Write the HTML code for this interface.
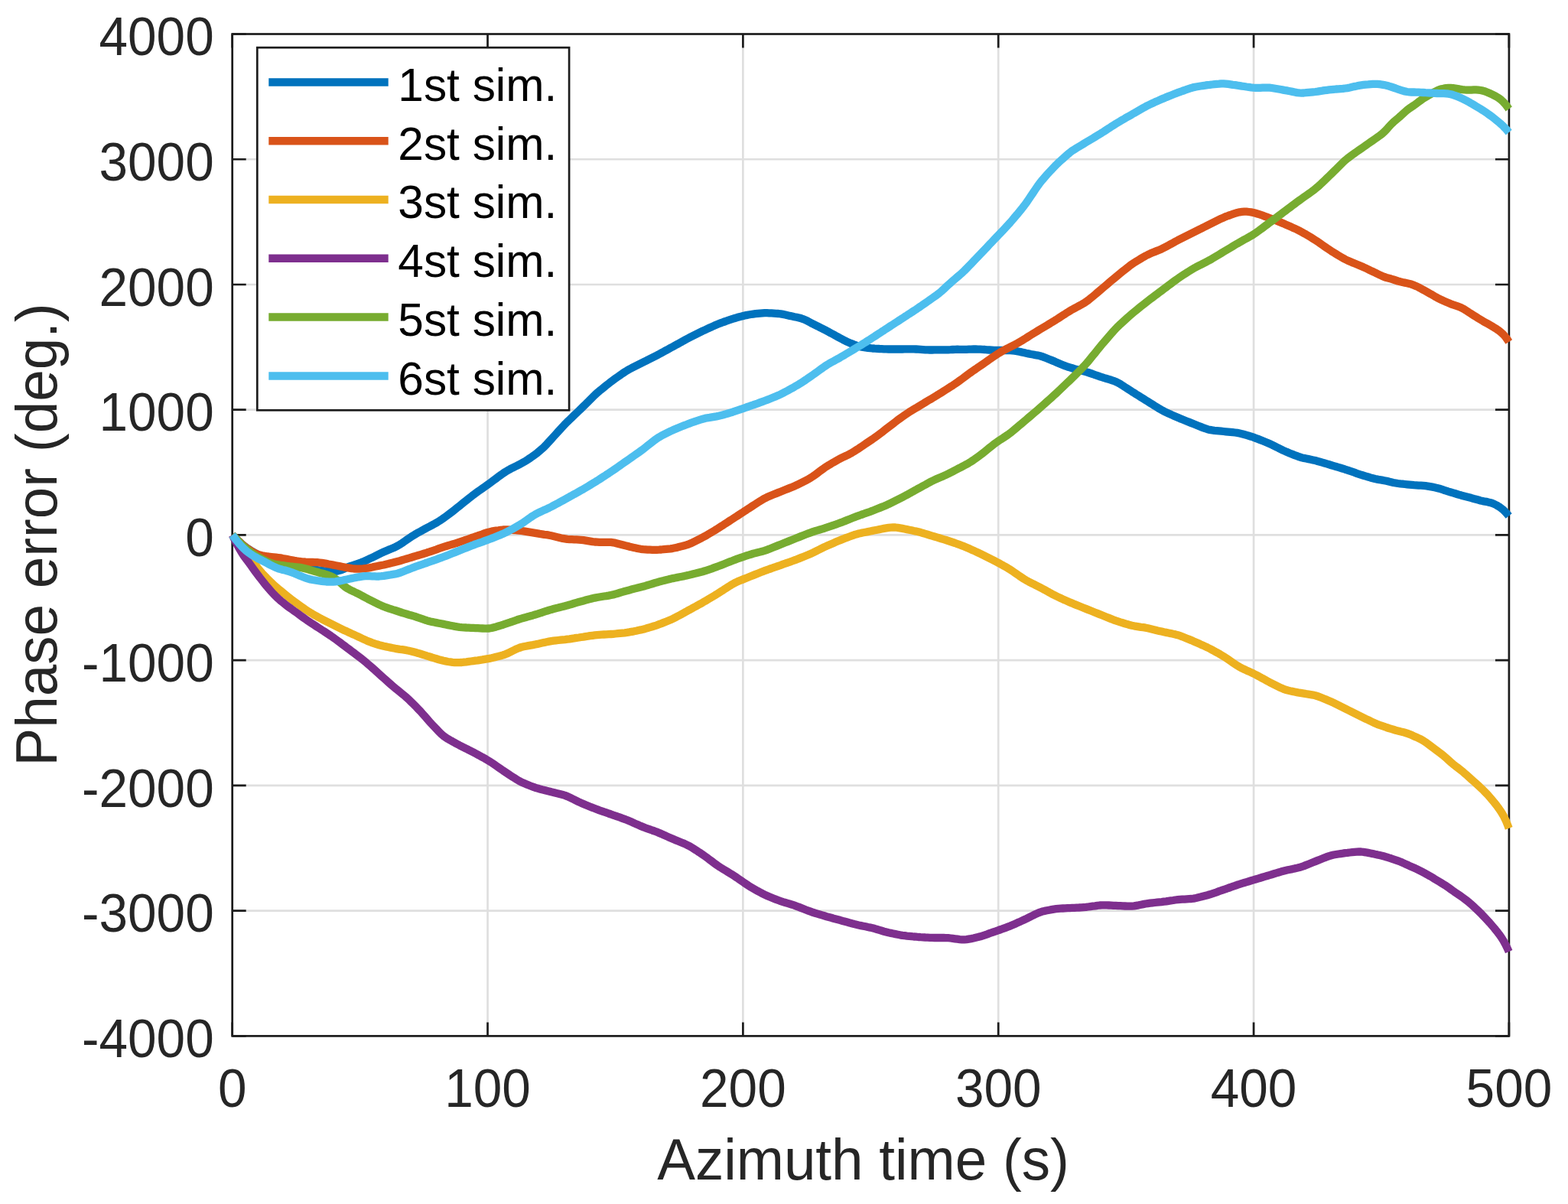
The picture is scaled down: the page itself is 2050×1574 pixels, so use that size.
<!DOCTYPE html>
<html><head><meta charset="utf-8"><title>Phase error</title><style>html,body{margin:0;padding:0;background:#fff;width:2050px;height:1574px;overflow:hidden}svg{display:block}</style></head><body>
<svg width="2050" height="1574" viewBox="0 0 2050 1574">
<rect width="2050" height="1574" fill="#fff"/>
<path d="M637.54 44.50V1354.40M971.38 44.50V1354.40M1305.22 44.50V1354.40M1639.06 44.50V1354.40M303.70 1190.66H1972.90M303.70 1026.93H1972.90M303.70 863.19H1972.90M303.70 699.45H1972.90M303.70 535.71H1972.90M303.70 371.98H1972.90M303.70 208.24H1972.90" stroke="#dfdfdf" stroke-width="2.7" fill="none"/>
<path d="M303.70 1354.40v-18M303.70 44.50v18M637.54 1354.40v-18M637.54 44.50v18M971.38 1354.40v-18M971.38 44.50v18M1305.22 1354.40v-18M1305.22 44.50v18M1639.06 1354.40v-18M1639.06 44.50v18M1972.90 1354.40v-18M1972.90 44.50v18M303.70 1354.40h18M1972.90 1354.40h-18M303.70 1190.66h18M1972.90 1190.66h-18M303.70 1026.93h18M1972.90 1026.93h-18M303.70 863.19h18M1972.90 863.19h-18M303.70 699.45h18M1972.90 699.45h-18M303.70 535.71h18M1972.90 535.71h-18M303.70 371.98h18M1972.90 371.98h-18M303.70 208.24h18M1972.90 208.24h-18M303.70 44.50h18M1972.90 44.50h-18" stroke="#1c1c1c" stroke-width="2.7" fill="none"/>
<rect x="303.70" y="44.50" width="1669.20" height="1309.90" stroke="#1c1c1c" stroke-width="2.7" fill="none"/>
<path d="M303.7 699.5 306.7 702.3 309.7 705.2 312.7 708.0 315.7 710.8 318.7 713.4 321.7 715.7 324.7 717.7 327.7 719.6 330.7 721.4 333.7 723.2 336.7 725.0 339.7 726.8 342.7 728.4 345.7 729.8 348.7 730.9 351.7 731.8 354.7 732.6 357.7 733.4 360.7 734.2 363.7 735.0 366.7 735.8 369.7 736.6 372.7 737.3 375.7 738.1 378.7 738.7 381.7 739.3 384.7 739.9 387.7 740.5 390.7 741.1 393.7 741.7 396.7 742.3 399.7 742.8 402.7 743.3 405.7 743.8 408.7 744.2 411.7 744.7 414.7 745.1 417.7 745.5 420.7 745.9 423.7 746.3 426.7 746.6 429.7 746.9 432.7 747.1 435.7 747.1 438.7 746.8 441.7 746.3 444.7 745.5 447.7 744.5 450.7 743.2 453.7 741.8 456.7 740.7 459.7 739.6 462.7 738.7 465.7 737.7 468.7 736.7 471.7 735.6 474.7 734.4 477.7 733.1 480.7 731.6 483.7 730.2 486.7 728.8 489.7 727.4 492.7 725.9 495.7 724.4 498.7 722.9 501.7 721.5 504.7 720.2 507.7 718.9 510.7 717.7 513.7 716.5 516.7 715.2 519.7 713.7 522.7 711.9 525.7 710.0 528.7 707.9 531.7 705.8 534.7 703.7 537.7 701.7 540.7 699.8 543.7 698.0 546.7 696.3 549.7 694.7 552.7 693.0 555.7 691.4 558.7 689.8 561.7 688.2 564.7 686.6 567.7 685.0 570.7 683.4 573.7 681.5 576.7 679.6 579.7 677.5 582.7 675.4 585.7 673.2 588.7 670.9 591.7 668.6 594.7 666.2 597.7 663.8 600.7 661.4 603.7 659.0 606.7 656.6 609.7 654.2 612.7 651.8 615.7 649.5 618.7 647.1 621.7 644.9 624.7 642.7 627.7 640.6 630.7 638.5 633.7 636.4 636.7 634.3 639.7 632.1 642.7 629.9 645.7 627.7 648.7 625.5 651.7 623.2 654.7 621.0 657.7 618.9 660.7 616.9 663.7 615.1 666.7 613.4 669.7 611.8 672.7 610.3 675.7 608.9 678.7 607.4 681.7 605.8 684.7 604.1 687.7 602.3 690.7 600.4 693.7 598.4 696.7 596.3 699.7 594.1 702.7 591.8 705.7 589.3 708.7 586.7 711.7 583.9 714.7 580.8 717.7 577.5 720.7 574.2 723.7 570.9 726.7 567.6 729.7 564.3 732.7 561.0 735.7 557.8 738.7 554.6 741.7 551.5 744.7 548.6 747.7 545.7 750.7 542.8 753.7 540.0 756.7 537.1 759.7 534.2 762.7 531.3 765.7 528.3 768.7 525.3 771.7 522.3 774.7 519.3 777.7 516.4 780.7 513.7 783.7 511.1 786.7 508.7 789.7 506.2 792.7 503.8 795.7 501.5 798.7 499.1 801.7 496.9 804.7 494.7 807.7 492.6 810.7 490.5 813.7 488.4 816.7 486.4 819.7 484.5 822.7 482.8 825.7 481.2 828.7 479.7 831.7 478.2 834.7 476.7 837.7 475.2 840.7 473.7 843.7 472.2 846.7 470.6 849.7 469.1 852.7 467.6 855.7 466.1 858.7 464.6 861.7 463.0 864.7 461.4 867.7 459.8 870.7 458.1 873.7 456.5 876.7 454.8 879.7 453.2 882.7 451.5 885.7 449.9 888.7 448.2 891.7 446.6 894.7 444.9 897.7 443.3 900.7 441.7 903.7 440.2 906.7 438.7 909.7 437.2 912.7 435.7 915.7 434.2 918.7 432.7 921.7 431.3 924.7 429.9 927.7 428.5 930.7 427.2 933.7 425.8 936.7 424.5 939.7 423.3 942.7 422.1 945.7 421.0 948.7 420.0 951.7 418.9 954.7 417.9 957.7 416.9 960.7 416.0 963.7 415.1 966.7 414.3 969.7 413.6 972.7 412.8 975.7 412.1 978.7 411.5 981.7 411.0 984.7 410.6 987.7 410.2 990.7 409.9 993.7 409.6 996.7 409.4 999.7 409.2 1002.7 409.2 1005.7 409.3 1008.7 409.4 1011.7 409.6 1014.7 409.8 1017.7 410.0 1020.7 410.4 1023.7 410.9 1026.7 411.5 1029.7 412.2 1032.7 412.9 1035.7 413.5 1038.7 414.2 1041.7 414.8 1044.7 415.5 1047.7 416.3 1050.7 417.3 1053.7 418.7 1056.7 420.2 1059.7 421.8 1062.7 423.3 1065.7 424.8 1068.7 426.3 1071.7 427.9 1074.7 429.4 1077.7 430.9 1080.7 432.4 1083.7 434.1 1086.7 435.7 1089.7 437.3 1092.7 439.0 1095.7 440.6 1098.7 442.2 1101.7 443.8 1104.7 445.3 1107.7 446.8 1110.7 448.2 1113.7 449.4 1116.7 450.6 1119.7 451.7 1122.7 452.6 1125.7 453.4 1128.7 454.0 1131.7 454.5 1134.7 454.9 1137.7 455.2 1140.7 455.5 1143.7 455.7 1146.7 455.8 1149.7 456.0 1152.7 456.1 1155.7 456.3 1158.7 456.4 1161.7 456.5 1164.7 456.5 1167.7 456.5 1170.7 456.5 1173.7 456.5 1176.7 456.5 1179.7 456.5 1182.7 456.4 1185.7 456.3 1188.7 456.3 1191.7 456.3 1194.7 456.4 1197.7 456.5 1200.7 456.7 1203.7 456.9 1206.7 457.1 1209.7 457.3 1212.7 457.4 1215.7 457.5 1218.7 457.5 1221.7 457.4 1224.7 457.4 1227.7 457.3 1230.7 457.3 1233.7 457.3 1236.7 457.3 1239.7 457.3 1242.7 457.2 1245.7 457.0 1248.7 456.8 1251.7 456.7 1254.7 456.8 1257.7 456.8 1260.7 456.8 1263.7 456.8 1266.7 456.7 1269.7 456.6 1272.7 456.5 1275.7 456.5 1278.7 456.6 1281.7 456.7 1284.7 456.8 1287.7 457.0 1290.7 457.3 1293.7 457.5 1296.7 457.7 1299.7 457.9 1302.7 458.0 1305.7 458.0 1308.7 458.0 1311.7 458.0 1314.7 458.0 1317.7 458.1 1320.7 458.2 1323.7 458.4 1326.7 458.7 1329.7 459.2 1332.7 459.8 1335.7 460.4 1338.7 461.1 1341.7 461.8 1344.7 462.4 1347.7 463.0 1350.7 463.5 1353.7 464.1 1356.7 464.6 1359.7 465.3 1362.7 466.2 1365.7 467.3 1368.7 468.5 1371.7 469.7 1374.7 470.9 1377.7 472.1 1380.7 473.4 1383.7 474.7 1386.7 476.0 1389.7 477.2 1392.7 478.4 1395.7 479.5 1398.7 480.4 1401.7 481.3 1404.7 482.2 1407.7 482.9 1410.7 483.7 1413.7 484.4 1416.7 485.2 1419.7 486.1 1422.7 487.0 1425.7 488.0 1428.7 489.0 1431.7 490.1 1434.7 491.1 1437.7 492.2 1440.7 493.1 1443.7 494.1 1446.7 495.0 1449.7 495.9 1452.7 496.8 1455.7 497.8 1458.7 499.0 1461.7 500.4 1464.7 502.1 1467.7 504.0 1470.7 506.0 1473.7 507.9 1476.7 509.8 1479.7 511.8 1482.7 513.7 1485.7 515.6 1488.7 517.4 1491.7 519.3 1494.7 521.2 1497.7 523.1 1500.7 524.9 1503.7 526.8 1506.7 528.7 1509.7 530.6 1512.7 532.4 1515.7 534.3 1518.7 536.0 1521.7 537.6 1524.7 539.1 1527.7 540.5 1530.7 541.8 1533.7 543.2 1536.7 544.5 1539.7 545.8 1542.7 547.1 1545.7 548.3 1548.7 549.5 1551.7 550.7 1554.7 551.9 1557.7 553.1 1560.7 554.3 1563.7 555.5 1566.7 556.7 1569.7 557.9 1572.7 559.1 1575.7 560.2 1578.7 561.2 1581.7 561.9 1584.7 562.4 1587.7 562.8 1590.7 563.1 1593.7 563.4 1596.7 563.7 1599.7 564.0 1602.7 564.3 1605.7 564.6 1608.7 564.9 1611.7 565.2 1614.7 565.5 1617.7 565.9 1620.7 566.5 1623.7 567.2 1626.7 568.0 1629.7 568.9 1632.7 569.8 1635.7 570.7 1638.7 571.7 1641.7 572.8 1644.7 573.9 1647.7 575.1 1650.7 576.3 1653.7 577.5 1656.7 578.7 1659.7 580.0 1662.7 581.4 1665.7 582.9 1668.7 584.4 1671.7 585.8 1674.7 587.3 1677.7 588.8 1680.7 590.2 1683.7 591.4 1686.7 592.7 1689.7 593.9 1692.7 595.1 1695.7 596.2 1698.7 597.3 1701.7 598.2 1704.7 598.9 1707.7 599.5 1710.7 600.1 1713.7 600.7 1716.7 601.4 1719.7 602.1 1722.7 602.9 1725.7 603.7 1728.7 604.6 1731.7 605.5 1734.7 606.4 1737.7 607.3 1740.7 608.2 1743.7 609.1 1746.7 610.0 1749.7 610.9 1752.7 611.8 1755.7 612.7 1758.7 613.7 1761.7 614.6 1764.7 615.7 1767.7 616.7 1770.7 617.7 1773.7 618.8 1776.7 619.8 1779.7 620.8 1782.7 621.7 1785.7 622.6 1788.7 623.5 1791.7 624.4 1794.7 625.2 1797.7 626.0 1800.7 626.6 1803.7 627.2 1806.7 627.6 1809.7 628.2 1812.7 628.8 1815.7 629.6 1818.7 630.3 1821.7 631.0 1824.7 631.5 1827.7 632.0 1830.7 632.4 1833.7 632.7 1836.7 633.0 1839.7 633.3 1842.7 633.6 1845.7 633.9 1848.7 634.2 1851.7 634.4 1854.7 634.6 1857.7 634.7 1860.7 634.9 1863.7 635.2 1866.7 635.6 1869.7 636.1 1872.7 636.6 1875.7 637.2 1878.7 637.9 1881.7 638.7 1884.7 639.7 1887.7 640.7 1890.7 641.6 1893.7 642.6 1896.7 643.5 1899.7 644.4 1902.7 645.3 1905.7 646.2 1908.7 647.1 1911.7 647.9 1914.7 648.7 1917.7 649.5 1920.7 650.3 1923.7 651.1 1926.7 652.0 1929.7 652.8 1932.7 653.6 1935.7 654.4 1938.7 655.1 1941.7 655.7 1944.7 656.2 1947.7 656.9 1950.7 657.8 1953.7 659.0 1956.7 660.5 1959.7 662.3 1962.7 664.4 1965.7 666.8 1968.7 669.8 1971.7 673.3 1972.7 674.5" stroke="#0072BD" stroke-width="10.3" fill="none" stroke-linejoin="round" stroke-linecap="butt"/>
<path d="M303.7 699.5 306.7 702.3 309.7 705.2 312.7 708.0 315.7 710.8 318.7 713.4 321.7 715.8 324.7 717.9 327.7 719.8 330.7 721.7 333.7 723.3 336.7 724.6 339.7 725.6 342.7 726.3 345.7 726.9 348.7 727.3 351.7 727.7 354.7 728.0 357.7 728.3 360.7 728.6 363.7 729.0 366.7 729.4 369.7 730.0 372.7 730.5 375.7 731.1 378.7 731.7 381.7 732.3 384.7 732.9 387.7 733.4 390.7 733.8 393.7 734.2 396.7 734.5 399.7 734.7 402.7 734.8 405.7 734.9 408.7 735.0 411.7 735.1 414.7 735.2 417.7 735.5 420.7 735.9 423.7 736.4 426.7 736.9 429.7 737.5 432.7 738.0 435.7 738.6 438.7 739.2 441.7 739.8 444.7 740.4 447.7 741.0 450.7 741.6 453.7 742.2 456.7 742.7 459.7 743.2 462.7 743.5 465.7 743.7 468.7 743.7 471.7 743.6 474.7 743.4 477.7 743.0 480.7 742.6 483.7 742.1 486.7 741.5 489.7 740.8 492.7 740.2 495.7 739.6 498.7 739.0 501.7 738.5 504.7 737.8 507.7 737.1 510.7 736.3 513.7 735.6 516.7 734.8 519.7 734.0 522.7 733.2 525.7 732.3 528.7 731.4 531.7 730.5 534.7 729.6 537.7 728.7 540.7 727.8 543.7 726.9 546.7 726.0 549.7 725.1 552.7 724.2 555.7 723.3 558.7 722.3 561.7 721.4 564.7 720.3 567.7 719.3 570.7 718.3 573.7 717.2 576.7 716.2 579.7 715.2 582.7 714.2 585.7 713.3 588.7 712.4 591.7 711.5 594.7 710.6 597.7 709.7 600.7 708.7 603.7 707.7 606.7 706.7 609.7 705.6 612.7 704.6 615.7 703.5 618.7 702.5 621.7 701.4 624.7 700.4 627.7 699.3 630.7 698.3 633.7 697.2 636.7 696.2 639.7 695.4 642.7 694.7 645.7 694.2 648.7 693.7 651.7 693.3 654.7 692.8 657.7 692.5 660.7 692.3 663.7 692.4 666.7 692.6 669.7 692.8 672.7 693.0 675.7 693.3 678.7 693.6 681.7 694.0 684.7 694.4 687.7 694.9 690.7 695.4 693.7 695.9 696.7 696.4 699.7 696.9 702.7 697.4 705.7 697.9 708.7 698.3 711.7 698.8 714.7 699.2 717.7 699.7 720.7 700.3 723.7 701.0 726.7 701.7 729.7 702.4 732.7 703.2 735.7 703.9 738.7 704.4 741.7 704.9 744.7 705.1 747.7 705.2 750.7 705.3 753.7 705.4 756.7 705.6 759.7 705.8 762.7 706.1 765.7 706.6 768.7 707.1 771.7 707.6 774.7 708.1 777.7 708.5 780.7 708.7 783.7 708.9 786.7 708.9 789.7 708.8 792.7 708.8 795.7 708.8 798.7 708.9 801.7 709.3 804.7 709.9 807.7 710.7 810.7 711.5 813.7 712.3 816.7 713.1 819.7 713.8 822.7 714.6 825.7 715.2 828.7 715.9 831.7 716.6 834.7 717.2 837.7 717.8 840.7 718.2 843.7 718.4 846.7 718.6 849.7 718.7 852.7 718.8 855.7 718.8 858.7 718.8 861.7 718.7 864.7 718.5 867.7 718.2 870.7 717.9 873.7 717.6 876.7 717.3 879.7 716.8 882.7 716.2 885.7 715.6 888.7 714.8 891.7 714.1 894.7 713.3 897.7 712.4 900.7 711.3 903.7 710.1 906.7 708.6 909.7 707.1 912.7 705.6 915.7 704.1 918.7 702.5 921.7 700.9 924.7 699.2 927.7 697.4 930.7 695.6 933.7 693.8 936.7 692.0 939.7 690.1 942.7 688.2 945.7 686.3 948.7 684.3 951.7 682.4 954.7 680.4 957.7 678.5 960.7 676.5 963.7 674.6 966.7 672.6 969.7 670.7 972.7 668.7 975.7 666.8 978.7 664.8 981.7 662.9 984.7 660.9 987.7 659.0 990.7 657.0 993.7 655.1 996.7 653.3 999.7 651.6 1002.7 650.1 1005.7 648.8 1008.7 647.5 1011.7 646.3 1014.7 645.1 1017.7 643.9 1020.7 642.7 1023.7 641.5 1026.7 640.3 1029.7 639.1 1032.7 637.9 1035.7 636.7 1038.7 635.4 1041.7 634.1 1044.7 632.6 1047.7 631.1 1050.7 629.6 1053.7 628.1 1056.7 626.5 1059.7 624.8 1062.7 622.8 1065.7 620.7 1068.7 618.5 1071.7 616.2 1074.7 614.0 1077.7 611.8 1080.7 609.8 1083.7 607.9 1086.7 606.2 1089.7 604.4 1092.7 602.7 1095.7 601.0 1098.7 599.4 1101.7 597.9 1104.7 596.5 1107.7 595.1 1110.7 593.6 1113.7 591.9 1116.7 590.1 1119.7 588.2 1122.7 586.3 1125.7 584.2 1128.7 582.2 1131.7 580.1 1134.7 578.1 1137.7 576.1 1140.7 574.1 1143.7 572.0 1146.7 569.8 1149.7 567.6 1152.7 565.4 1155.7 563.0 1158.7 560.7 1161.7 558.4 1164.7 556.1 1167.7 553.8 1170.7 551.5 1173.7 549.2 1176.7 547.0 1179.7 544.8 1182.7 542.7 1185.7 540.7 1188.7 538.7 1191.7 536.8 1194.7 535.0 1197.7 533.3 1200.7 531.5 1203.7 529.7 1206.7 527.8 1209.7 526.0 1212.7 524.2 1215.7 522.4 1218.7 520.7 1221.7 518.9 1224.7 517.0 1227.7 515.2 1230.7 513.3 1233.7 511.4 1236.7 509.5 1239.7 507.6 1242.7 505.7 1245.7 503.8 1248.7 501.8 1251.7 499.7 1254.7 497.5 1257.7 495.4 1260.7 493.2 1263.7 490.9 1266.7 488.7 1269.7 486.5 1272.7 484.4 1275.7 482.4 1278.7 480.3 1281.7 478.3 1284.7 476.2 1287.7 474.1 1290.7 472.0 1293.7 469.9 1296.7 467.8 1299.7 465.8 1302.7 463.8 1305.7 461.8 1308.7 460.0 1311.7 458.3 1314.7 456.7 1317.7 455.2 1320.7 453.6 1323.7 452.1 1326.7 450.6 1329.7 449.0 1332.7 447.3 1335.7 445.6 1338.7 443.7 1341.7 441.9 1344.7 439.9 1347.7 438.0 1350.7 436.1 1353.7 434.3 1356.7 432.5 1359.7 430.7 1362.7 428.9 1365.7 427.1 1368.7 425.3 1371.7 423.5 1374.7 421.7 1377.7 419.8 1380.7 418.0 1383.7 416.1 1386.7 414.1 1389.7 412.2 1392.7 410.3 1395.7 408.3 1398.7 406.5 1401.7 404.7 1404.7 403.1 1407.7 401.5 1410.7 399.9 1413.7 398.3 1416.7 396.6 1419.7 394.7 1422.7 392.5 1425.7 390.1 1428.7 387.6 1431.7 385.1 1434.7 382.5 1437.7 380.0 1440.7 377.4 1443.7 374.9 1446.7 372.3 1449.7 369.8 1452.7 367.2 1455.7 364.7 1458.7 362.2 1461.7 359.7 1464.7 357.3 1467.7 354.8 1470.7 352.4 1473.7 350.1 1476.7 347.7 1479.7 345.5 1482.7 343.5 1485.7 341.6 1488.7 339.8 1491.7 338.0 1494.7 336.2 1497.7 334.5 1500.7 333.0 1503.7 331.6 1506.7 330.3 1509.7 329.1 1512.7 327.9 1515.7 326.7 1518.7 325.4 1521.7 323.9 1524.7 322.4 1527.7 320.8 1530.7 319.1 1533.7 317.5 1536.7 315.8 1539.7 314.2 1542.7 312.7 1545.7 311.2 1548.7 309.7 1551.7 308.2 1554.7 306.7 1557.7 305.2 1560.7 303.7 1563.7 302.2 1566.7 300.7 1569.7 299.2 1572.7 297.6 1575.7 296.2 1578.7 294.7 1581.7 293.2 1584.7 291.7 1587.7 290.2 1590.7 288.7 1593.7 287.2 1596.7 285.7 1599.7 284.4 1602.7 283.1 1605.7 282.0 1608.7 281.0 1611.7 279.9 1614.7 278.9 1617.7 278.0 1620.7 277.3 1623.7 276.9 1626.7 276.7 1629.7 276.7 1632.7 277.0 1635.7 277.4 1638.7 278.0 1641.7 278.8 1644.7 279.7 1647.7 280.7 1650.7 281.7 1653.7 282.8 1656.7 283.9 1659.7 285.0 1662.7 286.1 1665.7 287.3 1668.7 288.5 1671.7 289.7 1674.7 290.9 1677.7 292.1 1680.7 293.4 1683.7 294.7 1686.7 296.0 1689.7 297.4 1692.7 298.7 1695.7 300.1 1698.7 301.6 1701.7 303.2 1704.7 304.9 1707.7 306.6 1710.7 308.4 1713.7 310.2 1716.7 312.1 1719.7 314.0 1722.7 315.9 1725.7 318.0 1728.7 320.1 1731.7 322.2 1734.7 324.3 1737.7 326.3 1740.7 328.3 1743.7 330.2 1746.7 332.0 1749.7 333.8 1752.7 335.6 1755.7 337.4 1758.7 339.0 1761.7 340.5 1764.7 341.8 1767.7 343.1 1770.7 344.3 1773.7 345.5 1776.7 346.7 1779.7 348.0 1782.7 349.3 1785.7 350.7 1788.7 352.1 1791.7 353.6 1794.7 355.0 1797.7 356.4 1800.7 357.9 1803.7 359.3 1806.7 360.7 1809.7 362.0 1812.7 363.0 1815.7 363.8 1818.7 364.6 1821.7 365.5 1824.7 366.5 1827.7 367.5 1830.7 368.3 1833.7 369.0 1836.7 369.6 1839.7 370.2 1842.7 370.9 1845.7 371.8 1848.7 372.9 1851.7 374.2 1854.7 375.6 1857.7 377.2 1860.7 378.9 1863.7 380.5 1866.7 382.2 1869.7 383.9 1872.7 385.6 1875.7 387.4 1878.7 389.1 1881.7 390.6 1884.7 392.1 1887.7 393.4 1890.7 394.8 1893.7 396.0 1896.7 397.3 1899.7 398.4 1902.7 399.4 1905.7 400.4 1908.7 401.5 1911.7 402.9 1914.7 404.6 1917.7 406.5 1920.7 408.5 1923.7 410.4 1926.7 412.3 1929.7 414.2 1932.7 416.1 1935.7 417.9 1938.7 419.7 1941.7 421.4 1944.7 423.1 1947.7 424.8 1950.7 426.5 1953.7 428.3 1956.7 430.2 1959.7 432.3 1962.7 434.7 1965.7 437.5 1968.7 441.0 1971.7 445.3 1972.7 446.9" stroke="#D95319" stroke-width="10.3" fill="none" stroke-linejoin="round" stroke-linecap="butt"/>
<path d="M303.7 699.5 306.7 702.9 309.7 706.3 312.7 709.7 315.7 713.2 318.7 716.7 321.7 720.4 324.7 724.3 327.7 728.5 330.7 733.0 333.7 737.7 336.7 742.1 339.7 745.9 342.7 749.4 345.7 752.6 348.7 755.7 351.7 758.6 354.7 761.6 357.7 764.4 360.7 767.1 363.7 769.7 366.7 772.1 369.7 774.5 372.7 776.9 375.7 779.4 378.7 781.8 381.7 784.2 384.7 786.4 387.7 788.5 390.7 790.6 393.7 792.8 396.7 795.0 399.7 797.1 402.7 799.0 405.7 800.9 408.7 802.7 411.7 804.4 414.7 806.1 417.7 807.7 420.7 809.3 423.7 810.8 426.7 812.3 429.7 813.8 432.7 815.3 435.7 816.8 438.7 818.3 441.7 819.8 444.7 821.3 447.7 822.8 450.7 824.3 453.7 825.6 456.7 827.0 459.7 828.4 462.7 829.7 465.7 831.1 468.7 832.5 471.7 833.9 474.7 835.3 477.7 836.7 480.7 838.1 483.7 839.2 486.7 840.3 489.7 841.3 492.7 842.3 495.7 843.2 498.7 844.0 501.7 844.8 504.7 845.4 507.7 846.0 510.7 846.6 513.7 847.2 516.7 847.8 519.7 848.3 522.7 848.8 525.7 849.2 528.7 849.7 531.7 850.2 534.7 850.8 537.7 851.5 540.7 852.3 543.7 853.1 546.7 853.9 549.7 854.8 552.7 855.7 555.7 856.6 558.7 857.6 561.7 858.5 564.7 859.5 567.7 860.4 570.7 861.3 573.7 862.2 576.7 863.0 579.7 863.8 582.7 864.4 585.7 865.0 588.7 865.4 591.7 865.8 594.7 866.1 597.7 866.2 600.7 866.2 603.7 866.0 606.7 865.6 609.7 865.3 612.7 864.9 615.7 864.5 618.7 864.1 621.7 863.7 624.7 863.3 627.7 862.8 630.7 862.4 633.7 861.9 636.7 861.4 639.7 860.9 642.7 860.3 645.7 859.6 648.7 858.8 651.7 858.1 654.7 857.3 657.7 856.4 660.7 855.3 663.7 854.1 666.7 852.6 669.7 851.1 672.7 849.7 675.7 848.2 678.7 847.0 681.7 846.0 684.7 845.3 687.7 844.7 690.7 844.1 693.7 843.6 696.7 843.1 699.7 842.5 702.7 841.9 705.7 841.2 708.7 840.5 711.7 839.9 714.7 839.2 717.7 838.6 720.7 838.1 723.7 837.7 726.7 837.3 729.7 837.0 732.7 836.7 735.7 836.4 738.7 836.1 741.7 835.7 744.7 835.3 747.7 834.8 750.7 834.4 753.7 833.9 756.7 833.5 759.7 833.0 762.7 832.6 765.7 832.1 768.7 831.7 771.7 831.2 774.7 830.8 777.7 830.4 780.7 830.1 783.7 829.9 786.7 829.7 789.7 829.5 792.7 829.4 795.7 829.2 798.7 829.0 801.7 828.8 804.7 828.5 807.7 828.2 810.7 827.9 813.7 827.6 816.7 827.3 819.7 826.9 822.7 826.4 825.7 825.8 828.7 825.3 831.7 824.7 834.7 824.0 837.7 823.4 840.7 822.7 843.7 821.9 846.7 821.0 849.7 820.1 852.7 819.2 855.7 818.3 858.7 817.3 861.7 816.2 864.7 815.1 867.7 813.9 870.7 812.7 873.7 811.5 876.7 810.3 879.7 808.9 882.7 807.4 885.7 805.8 888.7 804.2 891.7 802.6 894.7 800.9 897.7 799.3 900.7 797.6 903.7 796.0 906.7 794.3 909.7 792.7 912.7 791.0 915.7 789.4 918.7 787.7 921.7 785.9 924.7 784.2 927.7 782.4 930.7 780.6 933.7 778.8 936.7 777.0 939.7 775.1 942.7 773.2 945.7 771.3 948.7 769.3 951.7 767.4 954.7 765.5 957.7 763.7 960.7 762.0 963.7 760.6 966.7 759.3 969.7 758.1 972.7 756.9 975.7 755.7 978.7 754.5 981.7 753.3 984.7 752.1 987.7 750.9 990.7 749.7 993.7 748.5 996.7 747.3 999.7 746.2 1002.7 745.1 1005.7 744.0 1008.7 743.0 1011.7 741.9 1014.7 740.9 1017.7 739.8 1020.7 738.8 1023.7 737.7 1026.7 736.7 1029.7 735.6 1032.7 734.6 1035.7 733.5 1038.7 732.4 1041.7 731.3 1044.7 730.1 1047.7 728.9 1050.7 727.7 1053.7 726.5 1056.7 725.3 1059.7 724.0 1062.7 722.6 1065.7 721.1 1068.7 719.6 1071.7 718.2 1074.7 716.7 1077.7 715.2 1080.7 713.8 1083.7 712.5 1086.7 711.2 1089.7 709.9 1092.7 708.6 1095.7 707.3 1098.7 706.1 1101.7 704.9 1104.7 703.7 1107.7 702.6 1110.7 701.5 1113.7 700.4 1116.7 699.3 1119.7 698.4 1122.7 697.6 1125.7 696.9 1128.7 696.3 1131.7 695.7 1134.7 695.1 1137.7 694.5 1140.7 693.9 1143.7 693.3 1146.7 692.7 1149.7 692.1 1152.7 691.5 1155.7 690.9 1158.7 690.4 1161.7 689.9 1164.7 689.6 1167.7 689.4 1170.7 689.5 1173.7 689.9 1176.7 690.4 1179.7 690.9 1182.7 691.5 1185.7 692.1 1188.7 692.7 1191.7 693.3 1194.7 694.0 1197.7 694.6 1200.7 695.3 1203.7 696.1 1206.7 697.0 1209.7 697.9 1212.7 698.8 1215.7 699.7 1218.7 700.6 1221.7 701.5 1224.7 702.4 1227.7 703.3 1230.7 704.2 1233.7 705.1 1236.7 706.0 1239.7 707.0 1242.7 708.0 1245.7 709.0 1248.7 710.0 1251.7 711.1 1254.7 712.2 1257.7 713.3 1260.7 714.4 1263.7 715.7 1266.7 717.0 1269.7 718.4 1272.7 719.7 1275.7 721.1 1278.7 722.5 1281.7 723.9 1284.7 725.4 1287.7 726.9 1290.7 728.4 1293.7 729.9 1296.7 731.4 1299.7 732.9 1302.7 734.5 1305.7 736.1 1308.7 737.8 1311.7 739.4 1314.7 741.1 1317.7 742.8 1320.7 744.7 1323.7 746.6 1326.7 748.7 1329.7 750.8 1332.7 752.9 1335.7 754.9 1338.7 756.9 1341.7 758.7 1344.7 760.3 1347.7 761.8 1350.7 763.3 1353.7 764.9 1356.7 766.4 1359.7 767.9 1362.7 769.5 1365.7 771.1 1368.7 772.8 1371.7 774.4 1374.7 776.1 1377.7 777.7 1380.7 779.2 1383.7 780.6 1386.7 782.0 1389.7 783.4 1392.7 784.7 1395.7 786.1 1398.7 787.4 1401.7 788.6 1404.7 789.9 1407.7 791.1 1410.7 792.3 1413.7 793.5 1416.7 794.7 1419.7 795.9 1422.7 797.1 1425.7 798.3 1428.7 799.5 1431.7 800.7 1434.7 801.9 1437.7 803.1 1440.7 804.3 1443.7 805.5 1446.7 806.7 1449.7 807.9 1452.7 809.1 1455.7 810.3 1458.7 811.4 1461.7 812.4 1464.7 813.4 1467.7 814.3 1470.7 815.2 1473.7 816.1 1476.7 816.9 1479.7 817.7 1482.7 818.3 1485.7 818.8 1488.7 819.3 1491.7 819.8 1494.7 820.2 1497.7 820.7 1500.7 821.3 1503.7 822.0 1506.7 822.7 1509.7 823.4 1512.7 824.2 1515.7 824.9 1518.7 825.6 1521.7 826.3 1524.7 826.9 1527.7 827.5 1530.7 828.1 1533.7 828.8 1536.7 829.4 1539.7 830.2 1542.7 831.2 1545.7 832.3 1548.7 833.5 1551.7 834.7 1554.7 835.9 1557.7 837.1 1560.7 838.4 1563.7 839.7 1566.7 841.0 1569.7 842.4 1572.7 843.7 1575.7 845.1 1578.7 846.5 1581.7 848.0 1584.7 849.6 1587.7 851.2 1590.7 852.9 1593.7 854.5 1596.7 856.3 1599.7 858.1 1602.7 860.0 1605.7 862.0 1608.7 864.1 1611.7 866.2 1614.7 868.2 1617.7 870.2 1620.7 872.0 1623.7 873.6 1626.7 875.0 1629.7 876.4 1632.7 877.7 1635.7 879.1 1638.7 880.5 1641.7 882.0 1644.7 883.6 1647.7 885.2 1650.7 886.9 1653.7 888.5 1656.7 890.2 1659.7 891.8 1662.7 893.3 1665.7 894.8 1668.7 896.3 1671.7 897.8 1674.7 899.3 1677.7 900.6 1680.7 901.8 1683.7 902.6 1686.7 903.3 1689.7 903.9 1692.7 904.5 1695.7 905.1 1698.7 905.7 1701.7 906.2 1704.7 906.7 1707.7 907.2 1710.7 907.6 1713.7 908.1 1716.7 908.6 1719.7 909.3 1722.7 910.2 1725.7 911.3 1728.7 912.5 1731.7 913.7 1734.7 914.9 1737.7 916.2 1740.7 917.5 1743.7 918.9 1746.7 920.4 1749.7 921.9 1752.7 923.4 1755.7 924.9 1758.7 926.4 1761.7 927.9 1764.7 929.3 1767.7 930.8 1770.7 932.3 1773.7 933.8 1776.7 935.3 1779.7 936.8 1782.7 938.3 1785.7 939.8 1788.7 941.2 1791.7 942.7 1794.7 944.1 1797.7 945.5 1800.7 946.8 1803.7 947.9 1806.7 948.9 1809.7 949.9 1812.7 951.0 1815.7 952.0 1818.7 952.9 1821.7 953.8 1824.7 954.7 1827.7 955.4 1830.7 956.2 1833.7 956.9 1836.7 957.8 1839.7 958.7 1842.7 959.8 1845.7 961.1 1848.7 962.4 1851.7 963.7 1854.7 965.1 1857.7 966.5 1860.7 968.2 1863.7 970.2 1866.7 972.4 1869.7 974.7 1872.7 976.9 1875.7 979.1 1878.7 981.4 1881.7 983.6 1884.7 985.9 1887.7 988.3 1890.7 990.9 1893.7 993.6 1896.7 996.3 1899.7 998.9 1902.7 1001.3 1905.7 1003.5 1908.7 1005.8 1911.7 1008.2 1914.7 1010.8 1917.7 1013.4 1920.7 1016.1 1923.7 1018.8 1926.7 1021.5 1929.7 1024.2 1932.7 1026.9 1935.7 1029.7 1938.7 1032.5 1941.7 1035.6 1944.7 1038.7 1947.7 1042.1 1950.7 1045.6 1953.7 1049.2 1956.7 1053.0 1959.7 1057.1 1962.7 1061.5 1965.7 1066.5 1968.7 1072.7 1971.7 1080.2 1972.7 1082.9" stroke="#EDB120" stroke-width="10.3" fill="none" stroke-linejoin="round" stroke-linecap="butt"/>
<path d="M303.7 699.5 306.7 705.4 309.7 711.3 312.7 716.9 315.7 722.0 318.7 726.6 321.7 730.7 324.7 734.7 327.7 738.8 330.7 743.0 333.7 747.1 336.7 751.1 339.7 755.1 342.7 758.9 345.7 762.7 348.7 766.4 351.7 769.9 354.7 773.3 357.7 776.6 360.7 779.6 363.7 782.5 366.7 785.2 369.7 787.6 372.7 790.0 375.7 792.3 378.7 794.5 381.7 796.6 384.7 798.8 387.7 800.9 390.7 803.1 393.7 805.3 396.7 807.5 399.7 809.6 402.7 811.7 405.7 813.7 408.7 815.7 411.7 817.6 414.7 819.6 417.7 821.5 420.7 823.5 423.7 825.4 426.7 827.4 429.7 829.4 432.7 831.4 435.7 833.5 438.7 835.6 441.7 837.8 444.7 840.0 447.7 842.3 450.7 844.5 453.7 846.8 456.7 849.0 459.7 851.3 462.7 853.5 465.7 855.8 468.7 858.1 471.7 860.4 474.7 862.8 477.7 865.2 480.7 867.8 483.7 870.4 486.7 873.0 489.7 875.7 492.7 878.4 495.7 881.1 498.7 883.8 501.7 886.5 504.7 889.2 507.7 891.9 510.7 894.5 513.7 897.1 516.7 899.7 519.7 902.1 522.7 904.5 525.7 906.9 528.7 909.4 531.7 912.0 534.7 914.8 537.7 917.7 540.7 920.7 543.7 923.7 546.7 926.8 549.7 929.9 552.7 933.3 555.7 936.7 558.7 940.2 561.7 943.6 564.7 946.9 567.7 950.1 570.7 953.2 573.7 956.3 576.7 959.3 579.7 962.0 582.7 964.2 585.7 966.1 588.7 967.8 591.7 969.4 594.7 971.1 597.7 972.7 600.7 974.3 603.7 975.8 606.7 977.3 609.7 978.8 612.7 980.4 615.7 981.9 618.7 983.4 621.7 985.0 624.7 986.6 627.7 988.2 630.7 989.9 633.7 991.5 636.7 993.3 639.7 995.1 642.7 997.0 645.7 999.0 648.7 1001.1 651.7 1003.2 654.7 1005.3 657.7 1007.4 660.7 1009.4 663.7 1011.4 666.7 1013.4 669.7 1015.3 672.7 1017.2 675.7 1019.1 678.7 1020.9 681.7 1022.5 684.7 1023.8 687.7 1025.1 690.7 1026.3 693.7 1027.5 696.7 1028.6 699.7 1029.7 702.7 1030.6 705.7 1031.4 708.7 1032.2 711.7 1032.9 714.7 1033.7 717.7 1034.4 720.7 1035.2 723.7 1035.9 726.7 1036.7 729.7 1037.4 732.7 1038.2 735.7 1039.0 738.7 1039.9 741.7 1041.1 744.7 1042.4 747.7 1043.9 750.7 1045.3 753.7 1046.8 756.7 1048.3 759.7 1049.7 762.7 1051.0 765.7 1052.3 768.7 1053.5 771.7 1054.7 774.7 1055.9 777.7 1057.0 780.7 1058.2 783.7 1059.3 786.7 1060.3 789.7 1061.4 792.7 1062.4 795.7 1063.5 798.7 1064.5 801.7 1065.6 804.7 1066.6 807.7 1067.7 810.7 1068.7 813.7 1069.8 816.7 1070.9 819.7 1072.0 822.7 1073.3 825.7 1074.6 828.7 1075.9 831.7 1077.3 834.7 1078.6 837.7 1079.9 840.7 1081.1 843.7 1082.3 846.7 1083.3 849.7 1084.4 852.7 1085.5 855.7 1086.5 858.7 1087.6 861.7 1088.9 864.7 1090.1 867.7 1091.5 870.7 1092.8 873.7 1094.2 876.7 1095.5 879.7 1096.8 882.7 1098.1 885.7 1099.3 888.7 1100.5 891.7 1101.7 894.7 1102.9 897.7 1104.3 900.7 1105.8 903.7 1107.5 906.7 1109.4 909.7 1111.3 912.7 1113.3 915.7 1115.2 918.7 1117.3 921.7 1119.4 924.7 1121.5 927.7 1123.8 930.7 1126.0 933.7 1128.3 936.7 1130.5 939.7 1132.6 942.7 1134.5 945.7 1136.4 948.7 1138.2 951.7 1140.0 954.7 1141.8 957.7 1143.7 960.7 1145.6 963.7 1147.6 966.7 1149.7 969.7 1151.8 972.7 1153.9 975.7 1155.9 978.7 1157.9 981.7 1159.8 984.7 1161.5 987.7 1163.2 990.7 1164.9 993.7 1166.5 996.7 1168.1 999.7 1169.6 1002.7 1171.0 1005.7 1172.3 1008.7 1173.5 1011.7 1174.7 1014.7 1175.9 1017.7 1177.0 1020.7 1178.1 1023.7 1179.1 1026.7 1180.0 1029.7 1180.9 1032.7 1181.8 1035.7 1182.7 1038.7 1183.7 1041.7 1184.8 1044.7 1185.9 1047.7 1187.1 1050.7 1188.3 1053.7 1189.5 1056.7 1190.6 1059.7 1191.7 1062.7 1192.8 1065.7 1193.7 1068.7 1194.6 1071.7 1195.5 1074.7 1196.4 1077.7 1197.3 1080.7 1198.2 1083.7 1199.0 1086.7 1199.8 1089.7 1200.7 1092.7 1201.5 1095.7 1202.3 1098.7 1203.1 1101.7 1204.0 1104.7 1204.8 1107.7 1205.6 1110.7 1206.4 1113.7 1207.3 1116.7 1208.1 1119.7 1208.8 1122.7 1209.5 1125.7 1210.1 1128.7 1210.7 1131.7 1211.3 1134.7 1212.0 1137.7 1212.6 1140.7 1213.3 1143.7 1214.1 1146.7 1215.0 1149.7 1215.9 1152.7 1216.8 1155.7 1217.7 1158.7 1218.5 1161.7 1219.3 1164.7 1219.9 1167.7 1220.5 1170.7 1221.1 1173.7 1221.7 1176.7 1222.3 1179.7 1222.8 1182.7 1223.2 1185.7 1223.6 1188.7 1223.9 1191.7 1224.2 1194.7 1224.5 1197.7 1224.7 1200.7 1225.0 1203.7 1225.2 1206.7 1225.3 1209.7 1225.5 1212.7 1225.6 1215.7 1225.8 1218.7 1225.9 1221.7 1226.0 1224.7 1226.0 1227.7 1226.0 1230.7 1226.0 1233.7 1226.0 1236.7 1226.1 1239.7 1226.2 1242.7 1226.5 1245.7 1226.9 1248.7 1227.3 1251.7 1227.7 1254.7 1228.1 1257.7 1228.4 1260.7 1228.4 1263.7 1228.1 1266.7 1227.6 1269.7 1227.1 1272.7 1226.5 1275.7 1225.8 1278.7 1225.1 1281.7 1224.3 1284.7 1223.3 1287.7 1222.3 1290.7 1221.3 1293.7 1220.2 1296.7 1219.2 1299.7 1218.1 1302.7 1217.1 1305.7 1216.0 1308.7 1215.0 1311.7 1213.9 1314.7 1212.8 1317.7 1211.7 1320.7 1210.6 1323.7 1209.3 1326.7 1208.0 1329.7 1206.6 1332.7 1205.3 1335.7 1203.9 1338.7 1202.5 1341.7 1201.1 1344.7 1199.6 1347.7 1198.1 1350.7 1196.7 1353.7 1195.2 1356.7 1193.8 1359.7 1192.6 1362.7 1191.6 1365.7 1190.9 1368.7 1190.3 1371.7 1189.7 1374.7 1189.1 1377.7 1188.6 1380.7 1188.2 1383.7 1187.9 1386.7 1187.7 1389.7 1187.5 1392.7 1187.4 1395.7 1187.2 1398.7 1187.1 1401.7 1186.9 1404.7 1186.8 1407.7 1186.6 1410.7 1186.5 1413.7 1186.3 1416.7 1186.1 1419.7 1185.9 1422.7 1185.5 1425.7 1185.1 1428.7 1184.7 1431.7 1184.3 1434.7 1183.8 1437.7 1183.5 1440.7 1183.3 1443.7 1183.3 1446.7 1183.4 1449.7 1183.5 1452.7 1183.6 1455.7 1183.8 1458.7 1183.9 1461.7 1184.1 1464.7 1184.2 1467.7 1184.4 1470.7 1184.5 1473.7 1184.7 1476.7 1184.7 1479.7 1184.6 1482.7 1184.3 1485.7 1183.8 1488.7 1183.3 1491.7 1182.7 1494.7 1182.1 1497.7 1181.5 1500.7 1181.1 1503.7 1180.7 1506.7 1180.3 1509.7 1180.0 1512.7 1179.7 1515.7 1179.4 1518.7 1179.1 1521.7 1178.7 1524.7 1178.3 1527.7 1177.8 1530.7 1177.4 1533.7 1177.0 1536.7 1176.5 1539.7 1176.2 1542.7 1175.9 1545.7 1175.7 1548.7 1175.6 1551.7 1175.4 1554.7 1175.2 1557.7 1175.0 1560.7 1174.6 1563.7 1174.0 1566.7 1173.3 1569.7 1172.6 1572.7 1171.8 1575.7 1171.0 1578.7 1170.2 1581.7 1169.3 1584.7 1168.3 1587.7 1167.3 1590.7 1166.3 1593.7 1165.2 1596.7 1164.2 1599.7 1163.1 1602.7 1162.1 1605.7 1161.0 1608.7 1160.0 1611.7 1158.9 1614.7 1157.9 1617.7 1156.8 1620.7 1155.9 1623.7 1154.9 1626.7 1154.0 1629.7 1153.1 1632.7 1152.2 1635.7 1151.3 1638.7 1150.4 1641.7 1149.5 1644.7 1148.6 1647.7 1147.7 1650.7 1146.8 1653.7 1145.9 1656.7 1145.0 1659.7 1144.1 1662.7 1143.2 1665.7 1142.3 1668.7 1141.4 1671.7 1140.5 1674.7 1139.6 1677.7 1138.8 1680.7 1138.0 1683.7 1137.3 1686.7 1136.7 1689.7 1136.1 1692.7 1135.4 1695.7 1134.8 1698.7 1134.1 1701.7 1133.1 1704.7 1132.1 1707.7 1130.9 1710.7 1129.7 1713.7 1128.5 1716.7 1127.3 1719.7 1126.1 1722.7 1124.9 1725.7 1123.7 1728.7 1122.5 1731.7 1121.3 1734.7 1120.2 1737.7 1119.1 1740.7 1118.2 1743.7 1117.5 1746.7 1117.0 1749.7 1116.5 1752.7 1116.1 1755.7 1115.7 1758.7 1115.2 1761.7 1114.9 1764.7 1114.5 1767.7 1114.2 1770.7 1113.9 1773.7 1113.7 1776.7 1113.5 1779.7 1113.5 1782.7 1113.8 1785.7 1114.3 1788.7 1114.9 1791.7 1115.5 1794.7 1116.1 1797.7 1116.8 1800.7 1117.4 1803.7 1118.1 1806.7 1118.8 1809.7 1119.6 1812.7 1120.4 1815.7 1121.4 1818.7 1122.3 1821.7 1123.3 1824.7 1124.3 1827.7 1125.4 1830.7 1126.5 1833.7 1127.8 1836.7 1129.2 1839.7 1130.5 1842.7 1131.9 1845.7 1133.2 1848.7 1134.5 1851.7 1135.9 1854.7 1137.4 1857.7 1138.9 1860.7 1140.4 1863.7 1142.1 1866.7 1143.7 1869.7 1145.4 1872.7 1147.2 1875.7 1149.1 1878.7 1150.9 1881.7 1152.7 1884.7 1154.5 1887.7 1156.3 1890.7 1158.2 1893.7 1160.3 1896.7 1162.5 1899.7 1164.6 1902.7 1166.7 1905.7 1168.7 1908.7 1170.8 1911.7 1172.9 1914.7 1175.1 1917.7 1177.4 1920.7 1179.8 1923.7 1182.4 1926.7 1185.1 1929.7 1187.9 1932.7 1190.8 1935.7 1193.7 1938.7 1196.8 1941.7 1200.0 1944.7 1203.2 1947.7 1206.5 1950.7 1210.0 1953.7 1213.5 1956.7 1217.2 1959.7 1221.1 1962.7 1225.3 1965.7 1230.0 1968.7 1235.5 1971.7 1241.9 1972.7 1244.1" stroke="#7E2F8E" stroke-width="10.3" fill="none" stroke-linejoin="round" stroke-linecap="butt"/>
<path d="M303.7 699.5 306.7 702.5 309.7 705.5 312.7 708.6 315.7 711.6 318.7 714.4 321.7 717.0 324.7 719.4 327.7 721.6 330.7 723.8 333.7 725.8 336.7 727.6 339.7 729.3 342.7 730.8 345.7 732.3 348.7 733.8 351.7 735.2 354.7 736.3 357.7 737.2 360.7 737.8 363.7 738.3 366.7 738.8 369.7 739.2 372.7 739.6 375.7 740.0 378.7 740.4 381.7 740.7 384.7 741.0 387.7 741.3 390.7 741.6 393.7 742.1 396.7 742.7 399.7 743.5 402.7 744.3 405.7 745.2 408.7 746.1 411.7 747.0 414.7 747.8 417.7 748.7 420.7 749.4 423.7 750.3 426.7 751.2 429.7 752.2 432.7 753.4 435.7 754.9 438.7 756.8 441.7 759.0 444.7 761.5 447.7 764.3 450.7 766.9 453.7 768.9 456.7 770.6 459.7 772.1 462.7 773.5 465.7 775.0 468.7 776.4 471.7 778.0 474.7 779.6 477.7 781.2 480.7 782.8 483.7 784.3 486.7 785.8 489.7 787.3 492.7 788.8 495.7 790.3 498.7 791.7 501.7 793.0 504.7 794.1 507.7 795.2 510.7 796.1 513.7 797.1 516.7 798.0 519.7 799.0 522.7 800.0 525.7 801.0 528.7 801.9 531.7 802.8 534.7 803.7 537.7 804.5 540.7 805.4 543.7 806.3 546.7 807.4 549.7 808.4 552.7 809.4 555.7 810.5 558.7 811.4 561.7 812.2 564.7 812.9 567.7 813.5 570.7 814.1 573.7 814.7 576.7 815.3 579.7 815.9 582.7 816.5 585.7 817.1 588.7 817.7 591.7 818.3 594.7 818.9 597.7 819.4 600.7 819.8 603.7 820.1 606.7 820.3 609.7 820.5 612.7 820.6 615.7 820.8 618.7 820.9 621.7 821.1 624.7 821.2 627.7 821.4 630.7 821.5 633.7 821.7 636.7 821.7 639.7 821.5 642.7 821.0 645.7 820.2 648.7 819.4 651.7 818.5 654.7 817.6 657.7 816.7 660.7 815.7 663.7 814.7 666.7 813.7 669.7 812.6 672.7 811.6 675.7 810.5 678.7 809.5 681.7 808.6 684.7 807.7 687.7 806.9 690.7 806.1 693.7 805.2 696.7 804.4 699.7 803.5 702.7 802.6 705.7 801.6 708.7 800.7 711.7 799.7 714.7 798.7 717.7 797.8 720.7 796.9 723.7 796.1 726.7 795.3 729.7 794.6 732.7 793.8 735.7 793.1 738.7 792.3 741.7 791.4 744.7 790.6 747.7 789.7 750.7 788.8 753.7 787.9 756.7 787.0 759.7 786.2 762.7 785.4 765.7 784.6 768.7 783.8 771.7 783.1 774.7 782.3 777.7 781.6 780.7 781.0 783.7 780.5 786.7 780.0 789.7 779.5 792.7 779.1 795.7 778.6 798.7 778.0 801.7 777.4 804.7 776.6 807.7 775.7 810.7 774.8 813.7 773.9 816.7 773.0 819.7 772.2 822.7 771.4 825.7 770.6 828.7 769.8 831.7 769.1 834.7 768.3 837.7 767.5 840.7 766.7 843.7 765.9 846.7 765.0 849.7 764.1 852.7 763.2 855.7 762.3 858.7 761.4 861.7 760.6 864.7 759.8 867.7 759.1 870.7 758.3 873.7 757.6 876.7 756.8 879.7 756.1 882.7 755.5 885.7 754.9 888.7 754.3 891.7 753.7 894.7 753.1 897.7 752.4 900.7 751.8 903.7 751.1 906.7 750.3 909.7 749.6 912.7 748.8 915.7 748.0 918.7 747.2 921.7 746.3 924.7 745.3 927.7 744.3 930.7 743.3 933.7 742.2 936.7 741.1 939.7 740.0 942.7 738.9 945.7 737.7 948.7 736.5 951.7 735.3 954.7 734.1 957.7 733.0 960.7 731.8 963.7 730.7 966.7 729.7 969.7 728.6 972.7 727.6 975.7 726.5 978.7 725.6 981.7 724.7 984.7 723.8 987.7 723.1 990.7 722.3 993.7 721.6 996.7 720.8 999.7 719.9 1002.7 718.8 1005.7 717.7 1008.7 716.5 1011.7 715.3 1014.7 714.1 1017.7 712.9 1020.7 711.7 1023.7 710.5 1026.7 709.3 1029.7 708.1 1032.7 706.9 1035.7 705.7 1038.7 704.5 1041.7 703.3 1044.7 702.1 1047.7 700.9 1050.7 699.7 1053.7 698.5 1056.7 697.4 1059.7 696.3 1062.7 695.2 1065.7 694.3 1068.7 693.4 1071.7 692.5 1074.7 691.6 1077.7 690.7 1080.7 689.7 1083.7 688.7 1086.7 687.7 1089.7 686.6 1092.7 685.6 1095.7 684.5 1098.7 683.4 1101.7 682.3 1104.7 681.1 1107.7 679.9 1110.7 678.7 1113.7 677.5 1116.7 676.3 1119.7 675.2 1122.7 674.1 1125.7 673.0 1128.7 672.0 1131.7 670.9 1134.7 669.8 1137.7 668.8 1140.7 667.7 1143.7 666.5 1146.7 665.3 1149.7 664.1 1152.7 662.9 1155.7 661.7 1158.7 660.4 1161.7 659.1 1164.7 657.6 1167.7 656.1 1170.7 654.6 1173.7 653.1 1176.7 651.6 1179.7 650.1 1182.7 648.5 1185.7 646.9 1188.7 645.2 1191.7 643.6 1194.7 641.9 1197.7 640.3 1200.7 638.6 1203.7 637.0 1206.7 635.3 1209.7 633.7 1212.7 632.0 1215.7 630.4 1218.7 628.8 1221.7 627.4 1224.7 626.0 1227.7 624.7 1230.7 623.5 1233.7 622.2 1236.7 620.8 1239.7 619.4 1242.7 617.9 1245.7 616.4 1248.7 614.8 1251.7 613.2 1254.7 611.7 1257.7 610.1 1260.7 608.5 1263.7 606.9 1266.7 605.2 1269.7 603.4 1272.7 601.4 1275.7 599.3 1278.7 597.1 1281.7 594.9 1284.7 592.6 1287.7 590.2 1290.7 587.8 1293.7 585.3 1296.7 582.9 1299.7 580.5 1302.7 578.4 1305.7 576.3 1308.7 574.3 1311.7 572.4 1314.7 570.4 1317.7 568.4 1320.7 566.2 1323.7 563.8 1326.7 561.3 1329.7 558.8 1332.7 556.2 1335.7 553.7 1338.7 551.1 1341.7 548.6 1344.7 546.0 1347.7 543.5 1350.7 540.9 1353.7 538.4 1356.7 535.8 1359.7 533.2 1362.7 530.5 1365.7 527.9 1368.7 525.2 1371.7 522.5 1374.7 519.8 1377.7 517.0 1380.7 514.3 1383.7 511.5 1386.7 508.6 1389.7 505.8 1392.7 502.9 1395.7 500.1 1398.7 497.2 1401.7 494.3 1404.7 491.3 1407.7 488.3 1410.7 485.3 1413.7 482.3 1416.7 479.2 1419.7 475.9 1422.7 472.5 1425.7 468.8 1428.7 465.1 1431.7 461.4 1434.7 457.6 1437.7 453.9 1440.7 450.3 1443.7 446.8 1446.7 443.3 1449.7 439.8 1452.7 436.4 1455.7 433.0 1458.7 429.8 1461.7 426.7 1464.7 423.8 1467.7 421.1 1470.7 418.4 1473.7 415.7 1476.7 413.0 1479.7 410.4 1482.7 407.9 1485.7 405.5 1488.7 403.0 1491.7 400.6 1494.7 398.2 1497.7 395.9 1500.7 393.5 1503.7 391.2 1506.7 389.0 1509.7 386.7 1512.7 384.5 1515.7 382.2 1518.7 380.0 1521.7 377.7 1524.7 375.5 1527.7 373.2 1530.7 371.0 1533.7 368.7 1536.7 366.5 1539.7 364.4 1542.7 362.3 1545.7 360.3 1548.7 358.3 1551.7 356.4 1554.7 354.5 1557.7 352.6 1560.7 350.8 1563.7 349.2 1566.7 347.7 1569.7 346.2 1572.7 344.6 1575.7 343.1 1578.7 341.5 1581.7 339.9 1584.7 338.2 1587.7 336.4 1590.7 334.6 1593.7 332.8 1596.7 331.0 1599.7 329.2 1602.7 327.4 1605.7 325.6 1608.7 323.8 1611.7 322.0 1614.7 320.2 1617.7 318.4 1620.7 316.7 1623.7 315.0 1626.7 313.3 1629.7 311.7 1632.7 310.0 1635.7 308.3 1638.7 306.5 1641.7 304.5 1644.7 302.4 1647.7 300.2 1650.7 298.0 1653.7 295.7 1656.7 293.5 1659.7 291.2 1662.7 289.0 1665.7 286.7 1668.7 284.5 1671.7 282.2 1674.7 280.0 1677.7 277.7 1680.7 275.5 1683.7 273.2 1686.7 271.0 1689.7 268.7 1692.7 266.5 1695.7 264.2 1698.7 262.0 1701.7 259.9 1704.7 257.7 1707.7 255.6 1710.7 253.5 1713.7 251.4 1716.7 249.2 1719.7 246.8 1722.7 244.3 1725.7 241.6 1728.7 238.7 1731.7 235.9 1734.7 233.0 1737.7 230.1 1740.7 227.2 1743.7 224.3 1746.7 221.3 1749.7 218.3 1752.7 215.3 1755.7 212.4 1758.7 209.6 1761.7 207.1 1764.7 204.8 1767.7 202.6 1770.7 200.5 1773.7 198.4 1776.7 196.3 1779.7 194.2 1782.7 192.1 1785.7 190.0 1788.7 187.9 1791.7 185.8 1794.7 183.7 1797.7 181.6 1800.7 179.5 1803.7 177.4 1806.7 175.1 1809.7 172.4 1812.7 169.3 1815.7 165.9 1818.7 162.6 1821.7 159.7 1824.7 157.1 1827.7 154.6 1830.7 152.0 1833.7 149.2 1836.7 146.5 1839.7 143.9 1842.7 141.6 1845.7 139.6 1848.7 137.6 1851.7 135.5 1854.7 133.2 1857.7 131.0 1860.7 128.9 1863.7 127.1 1866.7 125.3 1869.7 123.6 1872.7 121.8 1875.7 120.0 1878.7 118.5 1881.7 117.2 1884.7 116.3 1887.7 115.7 1890.7 115.2 1893.7 115.0 1896.7 115.0 1899.7 115.1 1902.7 115.5 1905.7 116.0 1908.7 116.6 1911.7 117.1 1914.7 117.4 1917.7 117.6 1920.7 117.7 1923.7 117.6 1926.7 117.4 1929.7 117.4 1932.7 117.6 1935.7 118.0 1938.7 118.6 1941.7 119.5 1944.7 120.7 1947.7 122.0 1950.7 123.4 1953.7 124.9 1956.7 126.5 1959.7 128.4 1962.7 130.7 1965.7 133.5 1968.7 136.9 1971.7 141.0 1972.7 142.4" stroke="#77AC30" stroke-width="10.3" fill="none" stroke-linejoin="round" stroke-linecap="butt"/>
<path d="M303.7 699.5 306.7 703.3 309.7 707.1 312.7 710.8 315.7 714.1 318.7 717.2 321.7 719.9 324.7 722.3 327.7 724.4 330.7 726.3 333.7 728.1 336.7 729.8 339.7 731.3 342.7 732.9 345.7 734.4 348.7 736.0 351.7 737.6 354.7 739.2 357.7 740.6 360.7 742.0 363.7 743.2 366.7 744.1 369.7 744.9 372.7 745.6 375.7 746.4 378.7 747.4 381.7 748.4 384.7 749.5 387.7 750.8 390.7 752.1 393.7 753.3 396.7 754.5 399.7 755.6 402.7 756.6 405.7 757.4 408.7 758.0 411.7 758.5 414.7 759.0 417.7 759.4 420.7 759.8 423.7 760.2 426.7 760.5 429.7 760.7 432.7 760.7 435.7 760.6 438.7 760.4 441.7 759.9 444.7 759.4 447.7 758.8 450.7 758.1 453.7 757.4 456.7 756.7 459.7 756.1 462.7 755.5 465.7 754.9 468.7 754.3 471.7 753.8 474.7 753.4 477.7 753.1 480.7 753.1 483.7 753.1 486.7 753.3 489.7 753.4 492.7 753.6 495.7 753.5 498.7 753.2 501.7 752.8 504.7 752.3 507.7 751.8 510.7 751.4 513.7 750.9 516.7 750.4 519.7 749.7 522.7 748.8 525.7 747.7 528.7 746.5 531.7 745.3 534.7 744.1 537.7 743.0 540.7 741.8 543.7 740.7 546.7 739.7 549.7 738.6 552.7 737.6 555.7 736.5 558.7 735.5 561.7 734.4 564.7 733.4 567.7 732.3 570.7 731.3 573.7 730.2 576.7 729.1 579.7 728.0 582.7 726.9 585.7 725.7 588.7 724.5 591.7 723.3 594.7 722.1 597.7 720.9 600.7 719.7 603.7 718.5 606.7 717.3 609.7 716.1 612.7 714.9 615.7 713.7 618.7 712.6 621.7 711.4 624.7 710.4 627.7 709.3 630.7 708.3 633.7 707.2 636.7 706.1 639.7 705.0 642.7 703.9 645.7 702.7 648.7 701.5 651.7 700.3 654.7 699.1 657.7 697.8 660.7 696.4 663.7 694.9 666.7 693.3 669.7 691.7 672.7 690.0 675.7 688.3 678.7 686.6 681.7 684.7 684.7 682.7 687.7 680.6 690.7 678.5 693.7 676.4 696.7 674.4 699.7 672.6 702.7 670.9 705.7 669.5 708.7 668.1 711.7 666.7 714.7 665.4 717.7 664.0 720.7 662.5 723.7 660.9 726.7 659.3 729.7 657.7 732.7 656.0 735.7 654.4 738.7 652.7 741.7 651.1 744.7 649.4 747.7 647.8 750.7 646.1 753.7 644.5 756.7 642.8 759.7 641.1 762.7 639.4 765.7 637.6 768.7 635.8 771.7 634.0 774.7 632.2 777.7 630.3 780.7 628.5 783.7 626.6 786.7 624.6 789.7 622.7 792.7 620.7 795.7 618.8 798.7 616.8 801.7 614.8 804.7 612.7 807.7 610.6 810.7 608.5 813.7 606.4 816.7 604.3 819.7 602.2 822.7 600.1 825.7 598.0 828.7 595.9 831.7 593.8 834.7 591.7 837.7 589.5 840.7 587.3 843.7 585.0 846.7 582.6 849.7 580.2 852.7 577.9 855.7 575.5 858.7 573.3 861.7 571.4 864.7 569.7 867.7 568.2 870.7 566.7 873.7 565.2 876.7 563.7 879.7 562.3 882.7 561.0 885.7 559.7 888.7 558.5 891.7 557.3 894.7 556.1 897.7 555.0 900.7 553.8 903.7 552.7 906.7 551.7 909.7 550.6 912.7 549.6 915.7 548.6 918.7 547.7 921.7 546.9 924.7 546.3 927.7 545.9 930.7 545.4 933.7 544.9 936.7 544.4 939.7 543.8 942.7 543.1 945.7 542.3 948.7 541.4 951.7 540.5 954.7 539.6 957.7 538.7 960.7 537.7 963.7 536.7 966.7 535.7 969.7 534.6 972.7 533.6 975.7 532.5 978.7 531.5 981.7 530.4 984.7 529.4 987.7 528.3 990.7 527.3 993.7 526.2 996.7 525.1 999.7 524.0 1002.7 522.9 1005.7 521.7 1008.7 520.5 1011.7 519.3 1014.7 518.1 1017.7 516.8 1020.7 515.4 1023.7 513.9 1026.7 512.3 1029.7 510.7 1032.7 509.0 1035.7 507.4 1038.7 505.7 1041.7 503.9 1044.7 502.2 1047.7 500.3 1050.7 498.4 1053.7 496.4 1056.7 494.3 1059.7 492.2 1062.7 490.1 1065.7 488.0 1068.7 485.9 1071.7 483.7 1074.7 481.5 1077.7 479.4 1080.7 477.4 1083.7 475.5 1086.7 473.8 1089.7 472.2 1092.7 470.5 1095.7 468.9 1098.7 467.2 1101.7 465.4 1104.7 463.7 1107.7 461.9 1110.7 460.1 1113.7 458.3 1116.7 456.5 1119.7 454.7 1122.7 452.9 1125.7 451.1 1128.7 449.2 1131.7 447.4 1134.7 445.4 1137.7 443.5 1140.7 441.5 1143.7 439.6 1146.7 437.6 1149.7 435.7 1152.7 433.7 1155.7 431.8 1158.7 429.8 1161.7 427.9 1164.7 425.9 1167.7 424.0 1170.7 422.0 1173.7 420.1 1176.7 418.1 1179.7 416.2 1182.7 414.2 1185.7 412.3 1188.7 410.3 1191.7 408.4 1194.7 406.4 1197.7 404.5 1200.7 402.4 1203.7 400.4 1206.7 398.3 1209.7 396.2 1212.7 394.1 1215.7 392.0 1218.7 389.9 1221.7 387.8 1224.7 385.7 1227.7 383.4 1230.7 380.9 1233.7 378.2 1236.7 375.3 1239.7 372.5 1242.7 369.8 1245.7 367.2 1248.7 364.6 1251.7 362.0 1254.7 359.5 1257.7 356.8 1260.7 354.0 1263.7 351.0 1266.7 347.9 1269.7 344.8 1272.7 341.7 1275.7 338.5 1278.7 335.4 1281.7 332.2 1284.7 329.1 1287.7 325.9 1290.7 322.8 1293.7 319.6 1296.7 316.5 1299.7 313.3 1302.7 310.2 1305.7 307.0 1308.7 303.9 1311.7 300.7 1314.7 297.5 1317.7 294.3 1320.7 291.0 1323.7 287.5 1326.7 283.9 1329.7 280.4 1332.7 276.7 1335.7 273.1 1338.7 269.3 1341.7 265.2 1344.7 260.9 1347.7 256.4 1350.7 252.0 1353.7 247.5 1356.7 243.1 1359.7 239.0 1362.7 235.3 1365.7 231.8 1368.7 228.4 1371.7 225.1 1374.7 221.9 1377.7 218.7 1380.7 215.6 1383.7 212.7 1386.7 210.0 1389.7 207.3 1392.7 204.6 1395.7 202.0 1398.7 199.5 1401.7 197.2 1404.7 195.3 1407.7 193.4 1410.7 191.6 1413.7 189.8 1416.7 188.0 1419.7 186.2 1422.7 184.4 1425.7 182.6 1428.7 180.8 1431.7 179.0 1434.7 177.2 1437.7 175.3 1440.7 173.5 1443.7 171.6 1446.7 169.6 1449.7 167.7 1452.7 165.7 1455.7 163.8 1458.7 161.9 1461.7 160.1 1464.7 158.3 1467.7 156.6 1470.7 154.8 1473.7 153.1 1476.7 151.4 1479.7 149.7 1482.7 147.9 1485.7 146.2 1488.7 144.5 1491.7 142.8 1494.7 141.1 1497.7 139.4 1500.7 137.8 1503.7 136.4 1506.7 135.0 1509.7 133.6 1512.7 132.3 1515.7 130.9 1518.7 129.6 1521.7 128.4 1524.7 127.1 1527.7 125.9 1530.7 124.7 1533.7 123.5 1536.7 122.3 1539.7 121.2 1542.7 120.1 1545.7 119.0 1548.7 118.0 1551.7 116.9 1554.7 115.9 1557.7 114.9 1560.7 114.1 1563.7 113.5 1566.7 113.0 1569.7 112.5 1572.7 112.1 1575.7 111.7 1578.7 111.2 1581.7 110.9 1584.7 110.5 1587.7 110.2 1590.7 109.9 1593.7 109.7 1596.7 109.4 1599.7 109.4 1602.7 109.6 1605.7 109.9 1608.7 110.3 1611.7 110.8 1614.7 111.2 1617.7 111.7 1620.7 112.1 1623.7 112.6 1626.7 113.0 1629.7 113.5 1632.7 113.9 1635.7 114.3 1638.7 114.6 1641.7 114.8 1644.7 114.8 1647.7 114.8 1650.7 114.7 1653.7 114.6 1656.7 114.6 1659.7 114.7 1662.7 115.0 1665.7 115.5 1668.7 116.0 1671.7 116.5 1674.7 117.0 1677.7 117.6 1680.7 118.2 1683.7 118.7 1686.7 119.3 1689.7 119.9 1692.7 120.5 1695.7 121.1 1698.7 121.4 1701.7 121.6 1704.7 121.5 1707.7 121.2 1710.7 120.9 1713.7 120.6 1716.7 120.3 1719.7 120.0 1722.7 119.6 1725.7 119.1 1728.7 118.7 1731.7 118.2 1734.7 117.8 1737.7 117.4 1740.7 117.1 1743.7 116.8 1746.7 116.5 1749.7 116.3 1752.7 116.1 1755.7 115.9 1758.7 115.5 1761.7 115.1 1764.7 114.5 1767.7 113.8 1770.7 113.1 1773.7 112.5 1776.7 111.8 1779.7 111.3 1782.7 110.9 1785.7 110.6 1788.7 110.4 1791.7 110.1 1794.7 109.9 1797.7 109.8 1800.7 109.9 1803.7 110.2 1806.7 110.6 1809.7 111.1 1812.7 111.8 1815.7 112.6 1818.7 113.5 1821.7 114.5 1824.7 115.5 1827.7 116.6 1830.7 117.6 1833.7 118.6 1836.7 119.4 1839.7 120.0 1842.7 120.3 1845.7 120.5 1848.7 120.5 1851.7 120.6 1854.7 120.7 1857.7 120.9 1860.7 121.0 1863.7 121.2 1866.7 121.3 1869.7 121.5 1872.7 121.7 1875.7 121.9 1878.7 122.0 1881.7 122.1 1884.7 122.1 1887.7 122.2 1890.7 122.4 1893.7 122.7 1896.7 123.3 1899.7 124.1 1902.7 125.1 1905.7 126.2 1908.7 127.5 1911.7 128.9 1914.7 130.4 1917.7 131.9 1920.7 133.5 1923.7 135.3 1926.7 137.0 1929.7 138.8 1932.7 140.6 1935.7 142.4 1938.7 144.3 1941.7 146.3 1944.7 148.3 1947.7 150.5 1950.7 152.7 1953.7 155.0 1956.7 157.4 1959.7 159.9 1962.7 162.5 1965.7 165.3 1968.7 168.4 1971.7 171.9 1972.7 173.1" stroke="#4DBEEE" stroke-width="10.3" fill="none" stroke-linejoin="round" stroke-linecap="butt"/>
<text transform="translate(279.70 1382.00) scale(1 1.04)" font-size="67.5" font-family="'Liberation Sans', Arial, Helvetica, sans-serif" text-anchor="end" fill="#262626" >-4000</text>
<text transform="translate(279.70 1218.26) scale(1 1.04)" font-size="67.5" font-family="'Liberation Sans', Arial, Helvetica, sans-serif" text-anchor="end" fill="#262626" >-3000</text>
<text transform="translate(279.70 1054.53) scale(1 1.04)" font-size="67.5" font-family="'Liberation Sans', Arial, Helvetica, sans-serif" text-anchor="end" fill="#262626" >-2000</text>
<text transform="translate(279.70 890.79) scale(1 1.04)" font-size="67.5" font-family="'Liberation Sans', Arial, Helvetica, sans-serif" text-anchor="end" fill="#262626" >-1000</text>
<text transform="translate(279.70 727.05) scale(1 1.04)" font-size="67.5" font-family="'Liberation Sans', Arial, Helvetica, sans-serif" text-anchor="end" fill="#262626" >0</text>
<text transform="translate(279.70 563.31) scale(1 1.04)" font-size="67.5" font-family="'Liberation Sans', Arial, Helvetica, sans-serif" text-anchor="end" fill="#262626" >1000</text>
<text transform="translate(279.70 399.58) scale(1 1.04)" font-size="67.5" font-family="'Liberation Sans', Arial, Helvetica, sans-serif" text-anchor="end" fill="#262626" >2000</text>
<text transform="translate(279.70 235.84) scale(1 1.04)" font-size="67.5" font-family="'Liberation Sans', Arial, Helvetica, sans-serif" text-anchor="end" fill="#262626" >3000</text>
<text transform="translate(279.70 72.10) scale(1 1.04)" font-size="67.5" font-family="'Liberation Sans', Arial, Helvetica, sans-serif" text-anchor="end" fill="#262626" >4000</text>
<text transform="translate(303.70 1446.50) scale(1 1.04)" font-size="67.5" font-family="'Liberation Sans', Arial, Helvetica, sans-serif" text-anchor="middle" fill="#262626" >0</text>
<text transform="translate(637.54 1446.50) scale(1 1.04)" font-size="67.5" font-family="'Liberation Sans', Arial, Helvetica, sans-serif" text-anchor="middle" fill="#262626" >100</text>
<text transform="translate(971.38 1446.50) scale(1 1.04)" font-size="67.5" font-family="'Liberation Sans', Arial, Helvetica, sans-serif" text-anchor="middle" fill="#262626" >200</text>
<text transform="translate(1305.22 1446.50) scale(1 1.04)" font-size="67.5" font-family="'Liberation Sans', Arial, Helvetica, sans-serif" text-anchor="middle" fill="#262626" >300</text>
<text transform="translate(1639.06 1446.50) scale(1 1.04)" font-size="67.5" font-family="'Liberation Sans', Arial, Helvetica, sans-serif" text-anchor="middle" fill="#262626" >400</text>
<text transform="translate(1972.90 1446.50) scale(1 1.04)" font-size="67.5" font-family="'Liberation Sans', Arial, Helvetica, sans-serif" text-anchor="middle" fill="#262626" >500</text>
<text transform="translate(1128.50 1541.80) scale(1 1.02)" font-size="74.6" font-family="'Liberation Sans', Arial, Helvetica, sans-serif" text-anchor="middle" fill="#262626" >Azimuth time (s)</text>
<text transform="translate(73.9 698.90) rotate(-90) scale(1 1.02)" font-size="74.6" font-family="'Liberation Sans', Arial, Helvetica, sans-serif" text-anchor="middle" fill="#262626">Phase error (deg.)</text>
<rect x="336.3" y="62.2" width="407.80" height="474.10" fill="#fff" stroke="#1c1c1c" stroke-width="2.7"/>
<path d="M351.3 107.50H507.7" stroke="#0072BD" stroke-width="10.5" fill="none"/>
<text transform="translate(520.30 131.80) scale(1 1.0)" font-size="60.4" font-family="'Liberation Sans', Arial, Helvetica, sans-serif" text-anchor="start" fill="#000" >1st sim.</text>
<path d="M351.3 184.28H507.7" stroke="#D95319" stroke-width="10.5" fill="none"/>
<text transform="translate(520.30 208.58) scale(1 1.0)" font-size="60.4" font-family="'Liberation Sans', Arial, Helvetica, sans-serif" text-anchor="start" fill="#000" >2st sim.</text>
<path d="M351.3 261.06H507.7" stroke="#EDB120" stroke-width="10.5" fill="none"/>
<text transform="translate(520.30 285.36) scale(1 1.0)" font-size="60.4" font-family="'Liberation Sans', Arial, Helvetica, sans-serif" text-anchor="start" fill="#000" >3st sim.</text>
<path d="M351.3 337.84H507.7" stroke="#7E2F8E" stroke-width="10.5" fill="none"/>
<text transform="translate(520.30 362.14) scale(1 1.0)" font-size="60.4" font-family="'Liberation Sans', Arial, Helvetica, sans-serif" text-anchor="start" fill="#000" >4st sim.</text>
<path d="M351.3 414.62H507.7" stroke="#77AC30" stroke-width="10.5" fill="none"/>
<text transform="translate(520.30 438.92) scale(1 1.0)" font-size="60.4" font-family="'Liberation Sans', Arial, Helvetica, sans-serif" text-anchor="start" fill="#000" >5st sim.</text>
<path d="M351.3 491.40H507.7" stroke="#4DBEEE" stroke-width="10.5" fill="none"/>
<text transform="translate(520.30 515.70) scale(1 1.0)" font-size="60.4" font-family="'Liberation Sans', Arial, Helvetica, sans-serif" text-anchor="start" fill="#000" >6st sim.</text>
</svg>
</body></html>
